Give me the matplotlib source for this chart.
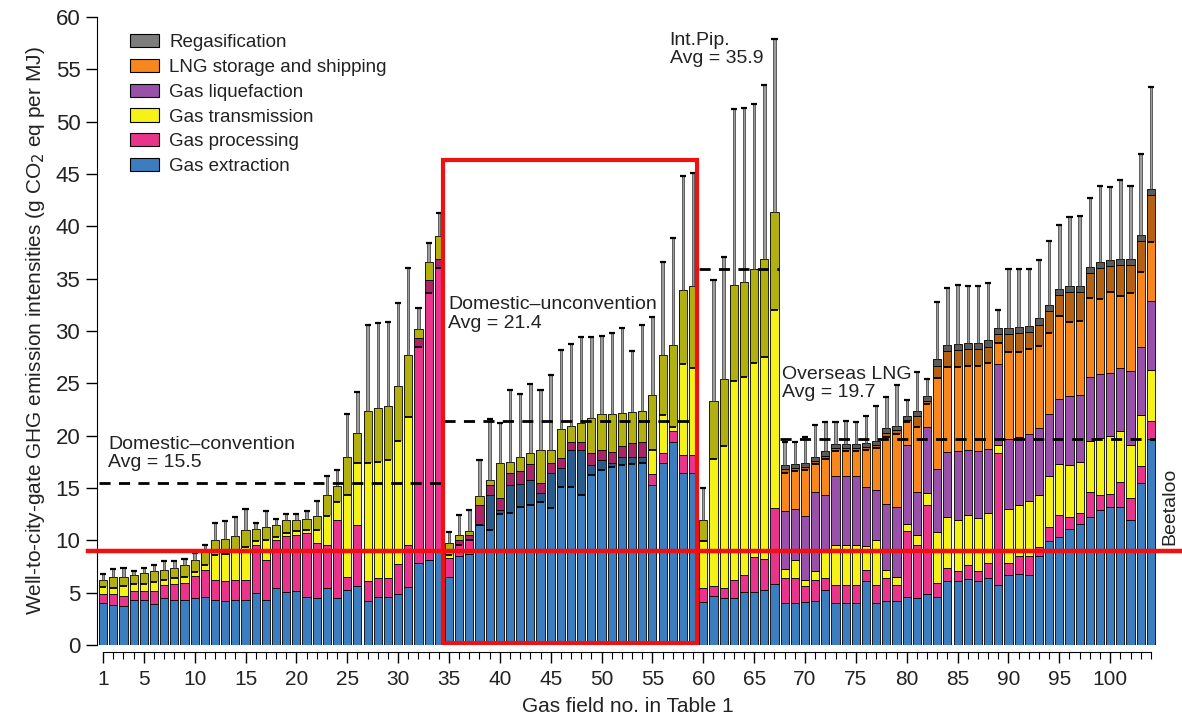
import numpy as np
import matplotlib
matplotlib.use('Agg')
import matplotlib.pyplot as plt
from matplotlib.patches import Patch, Rectangle

plt.rcParams['font.family'] = ['Liberation Sans', 'DejaVu Sans']

# ---------------- data ----------------
field_no = np.arange(1, 105)

extraction = [4.0, 3.8, 3.7, 4.3, 4.3, 3.9, 4.5, 4.3, 4.3, 4.5,
              4.6, 4.3, 4.2, 4.3, 4.3, 5.0, 4.3, 5.4, 5.1, 5.2,
              4.6, 4.5, 5.4, 4.5, 5.3, 5.6, 4.2, 4.6, 4.6, 4.9,
              5.5, 7.8, 8.1, 9.2,
              6.5, 8.5, 8.7, 11.5, 14.3, 12.9, 15.3, 15.4, 15.8, 14.5,
              16.4, 16.9, 18.6, 18.6, 17.2, 17.7, 17.4, 18.0, 18.0, 18.0,
              15.3, 17.4, 19.4, 16.4, 16.4,
              4.1, 4.7, 4.5, 4.5, 5.1, 5.1, 5.3, 5.8,
              4.0, 4.0, 4.1, 4.2, 5.3, 4.0, 4.0, 4.0, 6.1, 4.0,
              4.2, 4.2, 4.6, 4.5, 4.9, 4.6, 6.1, 6.1, 6.3, 6.1,
              6.4, 5.7, 6.7, 6.8, 6.7, 8.5, 9.9, 10.3, 11.1, 11.6,
              12.2, 12.9, 13.2, 13.2, 11.9, 15.5, 19.7]

processing = [0.9, 1.1, 1.0, 0.9, 0.9, 1.3, 1.2, 1.5, 1.6, 2.1,
              2.6, 1.9, 1.9, 1.9, 1.9, 4.6, 3.8, 4.6, 5.3, 5.3,
              6.1, 5.2, 4.2, 7.4, 1.2, 5.9, 1.9, 1.8, 1.8, 2.8,
              4.1, 21.5, 26.8, 27.7,
              1.8, 1.5, 1.8, 1.9, 1.0, 1.1, 1.1, 1.2, 1.5, 1.0,
              1.0, 1.0, 0.8, 0.8, 1.1, 0.9, 1.0, 1.0, 1.3, 1.4,
              1.0, 0.9, 1.0, 1.8, 1.8,
              1.3, 0.9, 0.9, 1.7, 1.6, 3.3, 2.9, 7.3,
              2.4, 2.4, 1.5, 2.0, 1.1, 1.7, 1.7, 1.7, 1.1, 1.7,
              2.2, 1.5, 6.3, 5.1, 8.5, 1.3, 1.3, 1.0, 1.3, 1.0,
              1.4, 12.6, 1.1, 1.7, 1.8, 0.9, 1.4, 2.1, 1.1, 1.0,
              2.4, 1.4, 1.2, 2.4, 2.1, 1.6, 1.7]

transmission = [1.3, 1.6, 1.8, 1.5, 1.7, 1.9, 1.5, 1.6, 1.7, 1.5,
                2.0, 3.8, 4.0, 4.2, 4.8, 1.5, 3.2, 1.5, 1.5, 1.4,
                1.3, 2.6, 4.7, 3.3, 11.5, 8.8, 16.3, 16.2, 16.4, 17.0,
                18.1, 0.9, 1.7, 2.2,
                1.4, 0.5, 0.4, 0.8, 0.5, 3.4, 1.1, 1.4, 1.0, 3.1,
                1.2, 2.7, 1.5, 1.8, 3.4, 3.5, 3.7, 3.2, 3.0, 3.0,
                7.6, 9.4, 8.3, 15.7, 16.1,
                6.5, 17.7, 20.0, 28.2, 28.0, 27.5, 28.7, 28.3,
                0.9, 1.7, 0.6, 0.9, 2.7, 3.9, 3.9, 3.9, 2.3, 4.3,
                0.8, 0.8, 0.7, 0.9, 1.1, 4.9, 4.8, 4.8, 4.8, 5.0,
                4.8, 0.8, 5.2, 4.9, 5.3, 4.9, 4.8, 4.9, 5.0, 4.9,
                4.9, 5.5, 5.6, 4.8, 5.1, 4.9, 4.9]

# LNG-only stages (fields 68-104)
lng_fields = np.arange(68, 105)
liquefaction = [5.5, 4.9, 6.1, 7.5, 5.2, 6.5, 6.5, 6.5, 5.6, 4.8,
                6.3, 6.7, 7.5, 4.1, 6.3, 6.0, 6.2, 6.6, 6.2, 6.4,
                6.1, 7.7, 6.7, 6.5, 6.4, 6.4, 6.0, 6.2, 6.6, 6.4,
                6.1, 6.1, 6.0, 6.1, 7.1, 6.5, 6.6]
shipping = [4.0, 3.9, 4.7, 3.0, 3.8, 2.7, 2.7, 2.7, 3.8, 4.3,
            6.8, 7.3, 2.4, 7.3, 2.5, 9.9, 9.7, 9.7, 9.7, 9.8,
            9.8, 2.9, 10.0, 9.9, 9.7, 9.9, 9.8, 9.9, 9.9, 9.8,
            9.9, 10.1, 10.2, 9.8, 10.1, 10.1, 10.1]
regasification = [0.4, 0.4, 0.4, 0.4, 0.4, 0.4, 0.4, 0.4, 0.4, 0.4,
                  0.4, 0.4, 0.4, 0.5, 0.5, 0.6, 0.6, 0.6, 0.6, 0.6,
                  0.6, 0.6, 0.6, 0.6, 0.6, 0.6, 0.6, 0.6, 0.6, 0.6,
                  0.6, 0.6, 0.6, 0.6, 0.6, 0.6, 0.6]

lower_bound = [5.5, 5.4, 5.6, 5.8, 5.8, 6.0, 6.2, 6.4, 6.5, 7.0,
               7.6, 8.6, 8.7, 9.1, 9.4, 9.9, 10.0, 10.3, 10.7, 10.9,
               11.0, 11.0, 12.3, 13.7, 14.3, 17.4, 17.4, 17.5, 17.7, 19.5,
               21.8, 28.5, 33.6, 36.0,
               8.6, 9.6, 10.0, 11.5, 11.0, 12.5, 12.6, 13.2, 13.4, 13.7,
               13.1, 15.1, 15.1, 14.3, 16.2, 16.7, 17.0, 17.2, 17.3, 17.4,
               18.6, 22.0, 20.8, 26.8, 26.5,
               9.9, 17.8, 19.0, 25.2, 25.6, 26.9, 27.5, 32.0,
               16.4, 16.6, 16.7, 17.3, 17.8, 18.5, 18.5, 18.5, 18.6, 18.8,
               19.9, 20.2, 21.3, 20.8, 23.0, 25.5, 26.6, 26.6, 26.7, 26.7,
               26.9, 28.9, 28.0, 28.0, 28.3, 28.6, 29.8, 31.4, 30.9, 31.0,
               33.2, 33.1, 33.7, 33.3, 33.6, 35.6, 38.5]

upper_bound = [6.8, 7.3, 7.4, 7.1, 7.4, 7.6, 8.0, 8.0, 8.2, 8.8,
               9.6, 11.7, 11.8, 12.2, 13.0, 11.7, 12.8, 12.0, 12.5, 12.5,
               12.8, 13.8, 16.1, 16.7, 22.1, 24.2, 30.6, 30.8, 30.9, 32.7,
               36.0, 32.2, 38.4, 41.3,
               10.8, 12.4, 12.9, 17.7, 21.6, 21.2, 24.4, 24.0, 24.9, 24.4,
               25.8, 28.2, 28.8, 29.4, 29.4, 29.5, 29.8, 30.3, 28.1, 30.6,
               31.3, 36.6, 38.9, 44.8, 45.1,
               15.0, 34.9, 37.1, 51.2, 51.3, 51.7, 53.5, 57.9,
               19.4, 19.4, 19.9, 21.0, 21.3, 21.3, 21.4, 21.3, 21.9, 22.8,
               23.7, 24.8, 23.4, 26.1, 25.4, 32.8, 34.1, 34.4, 34.3, 34.3,
               34.6, 32.0, 35.9, 35.9, 35.9, 36.8, 38.6, 40.1, 40.9, 41.0,
               42.7, 43.9, 43.8, 44.4, 43.9, 46.9, 53.3]

group_names = ['Domestic\u2013convention', 'Domestic\u2013unconvention',
               'Int.Pip.', 'Overseas LNG']
group_avg = [15.5, 21.4, 35.9, 19.7]
group_first = [1, 35, 60, 68]
group_last = [34, 59, 67, 104]

beetaloo_value = 8.98
x_tick_labels = [1, 5, 10, 15, 20, 25, 30, 35, 40, 45, 50, 55, 60, 65, 70,
                 75, 80, 85, 90, 95, 100]

# ---------------- build stacks ----------------
n = len(field_no)
stage_names = ['Gas extraction', 'Gas processing', 'Gas transmission',
               'Gas liquefaction', 'LNG storage and shipping', 'Regasification']
colors = ['#3b7dbf', '#e8348b', '#f4f216', '#9850a8', '#f7861c', '#7d7d7d']
lng_idx = lng_fields - 1
liq_full = np.zeros(n); liq_full[lng_idx] = liquefaction
ship_full = np.zeros(n); ship_full[lng_idx] = shipping
reg_full = np.zeros(n); reg_full[lng_idx] = regasification
stacks = [np.array(extraction), np.array(processing), np.array(transmission),
          liq_full, ship_full, reg_full]

fig = plt.figure(figsize=(11.82, 7.19), dpi=100)
ax = fig.add_axes([97 / 1182, 74 / 719, 1062 / 1182, 628 / 719])

bw = 0.8
bottom = np.zeros(n)
for vals, col in zip(stacks, colors):
    m = vals > 0
    ax.bar(field_no[m], vals[m], bottom=bottom[m], width=bw, color=col,
           edgecolor='black', linewidth=0.6, zorder=2)
    bottom = bottom + vals
total = bottom
lo = np.array(lower_bound)
hi = np.array(upper_bound)

# darker band for the lower uncertainty range
ax.bar(field_no, total - lo, bottom=lo, width=bw, color='black', alpha=0.27,
       linewidth=0, zorder=3)
ax.hlines(lo, field_no - 0.33, field_no + 0.33, color='black', lw=1.3, zorder=4)

# upper whiskers
ax.bar(field_no, hi - total, bottom=total, width=0.24, color='#9c9c9c',
       edgecolor='#333333', linewidth=0.5, zorder=2)
ax.hlines(hi, field_no - 0.3, field_no + 0.3, color='black', lw=1.6, zorder=4)

# group averages
for name, avg, a, b in zip(group_names, group_avg, group_first, group_last):
    ax.plot([a - 0.45, b + 0.45], [avg, avg], color='black', lw=2,
            ls=(0, (4, 3)), zorder=5)

fs = 14
tc = '#222222'
ax.text(1.5, 20.0, 'Domestic\u2013convention\nAvg = 15.5', fontsize=fs,
        va='top', ha='left', color=tc, linespacing=1.1)
ax.text(34.9, 33.3, 'Domestic\u2013unconvention\nAvg = 21.4', fontsize=fs,
        va='top', ha='left', color=tc, linespacing=1.1)
ax.text(56.7, 58.6, 'Int.Pip.\nAvg = 35.9', fontsize=fs,
        va='top', ha='left', color=tc, linespacing=1.1)
ax.text(67.7, 26.7, 'Overseas LNG\nAvg = 19.7', fontsize=fs,
        va='top', ha='left', color=tc, linespacing=1.1)

# red highlights
ax.plot([-0.0085, 1.0217], [beetaloo_value, beetaloo_value], color='#f01010',
        lw=3.2, transform=ax.get_yaxis_transform(), clip_on=False, zorder=6)
ax.add_patch(Rectangle((34.4, 0.2), 59.37 - 34.4, 46.3 - 0.2, fill=False,
                       edgecolor='#f01010', lw=3.0, zorder=6))
ax.text(105.85, 9.6, 'Beetaloo', rotation=90, fontsize=fs, ha='center',
        va='bottom', clip_on=False, color=tc)

# axes styling
ax.set_xlim(0.4, 104.8)
ax.set_ylim(0, 60)
ax.spines['top'].set_visible(False)
ax.spines['right'].set_visible(False)
ax.spines['left'].set_bounds(0, 60)
ax.spines['bottom'].set_position(('outward', 5))
ax.spines['bottom'].set_bounds(1, 104)
ax.set_yticks(np.arange(0, 61, 5))
ax.tick_params(axis='y', length=8, width=1, labelsize=16, pad=4,
               labelcolor=tc)
ax.set_xticks(x_tick_labels)
ax.set_xticklabels([str(v) for v in x_tick_labels])
ax.set_xticks(field_no, minor=True)
ax.tick_params(axis='x', which='major', length=8, width=1, labelsize=15,
               pad=5, labelcolor=tc)
ax.tick_params(axis='x', which='minor', length=5, width=0.8)
ax.set_xlabel('Gas field no. in Table 1', fontsize=15, labelpad=6, color=tc)
ax.set_ylabel('Well-to-city-gate GHG emission intensities (g CO$_2$ eq per MJ)',
              fontsize=15, labelpad=6, color=tc)

handles = [Patch(facecolor=c, edgecolor='black', linewidth=0.8)
           for c in colors[::-1]]
fig.legend(handles, stage_names[::-1], loc='upper left',
           bbox_to_anchor=(130 / 1182, 1 - 34 / 719), frameon=False,
           fontsize=13.5, handlelength=1.55, handleheight=0.7,
           handletextpad=0.55, labelspacing=0.41, borderpad=0, borderaxespad=0,
           labelcolor=tc)

fig.savefig('out.png', dpi=100, facecolor='white')
